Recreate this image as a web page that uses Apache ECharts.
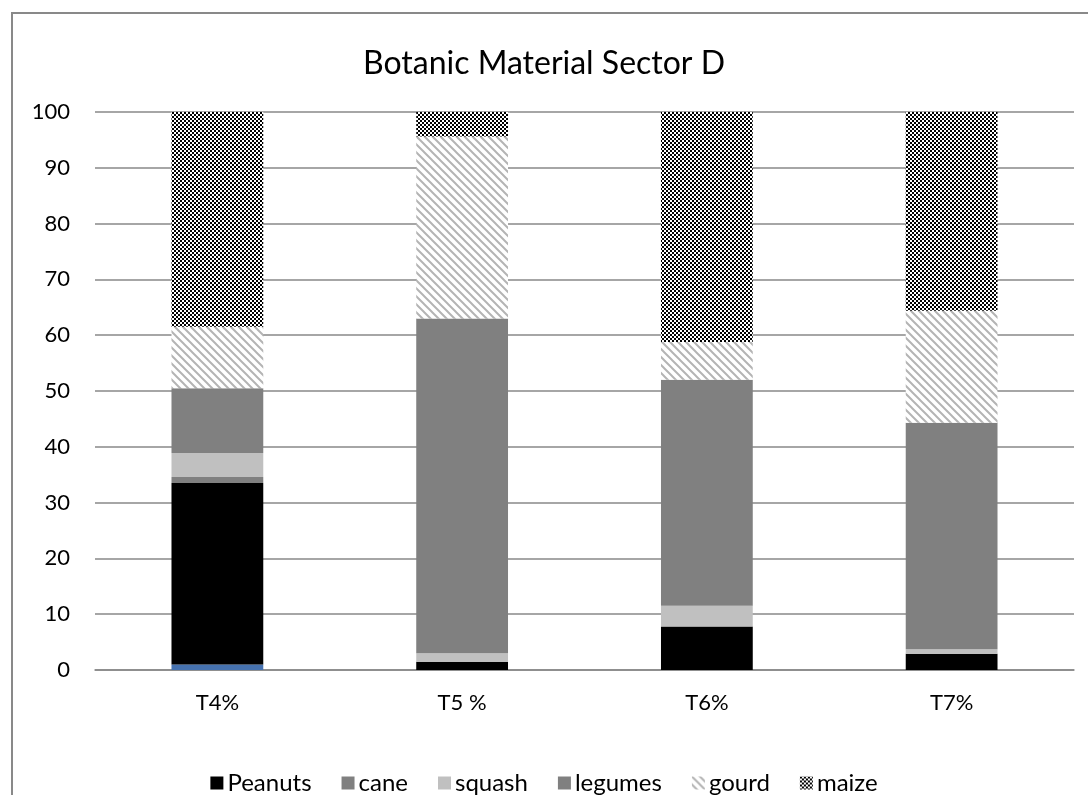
<!DOCTYPE html>
<html><head><meta charset="utf-8">
<script src="https://cdn.jsdelivr.net/npm/echarts@6/dist/echarts.min.js"></script>
<style>html,body{margin:0;padding:0;background:#fff}#c{width:1088px;height:795px}</style>
</head><body><div id="c"></div>
<script>
const categories = ['T4%', 'T5 %', 'T6%', 'T7%'];
const baseValues = [1.0, 0, 0, 0];
const peanuts = [32.5, 1.5, 7.8, 2.9];
const cane = [1.1, 0, 0, 0];
const squash = [4.3, 1.5, 3.7, 0.8];
const legumes = [11.6, 60.0, 40.5, 40.6];
const gourd = [11.0, 32.6, 6.8, 20.1];
const maize = [38.5, 4.4, 41.2, 35.6];
const yTicks = [0, 100, 10];

function gourdPattern() {
  const c = document.createElement('canvas'); c.width = 8; c.height = 8;
  const g = c.getContext('2d');
  g.fillStyle = '#fff'; g.fillRect(0, 0, 8, 8);
  g.strokeStyle = '#b4b4b4'; g.lineWidth = 2;
  g.beginPath();
  g.moveTo(-2, -2); g.lineTo(10, 10);
  g.moveTo(-2, 6); g.lineTo(2, 10);
  g.moveTo(6, -2); g.lineTo(10, 2);
  g.stroke();
  return c;
}
function maizePattern() {
  const c = document.createElement('canvas'); c.width = 4; c.height = 4;
  const g = c.getContext('2d');
  g.fillStyle = '#fff'; g.fillRect(0, 0, 4, 4);
  g.fillStyle = '#000'; g.fillRect(0, 0, 2, 2); g.fillRect(2, 2, 2, 2);
  return c;
}
const gourdFill = { image: gourdPattern(), repeat: 'repeat' };
const maizeFill = { image: maizePattern(), repeat: 'repeat' };

const font = 'Lato, "Open Sans", sans-serif';
function mk(name, data, color) {
  return { name: name, type: 'bar', stack: 's', data: data, barWidth: '37.5%',
    itemStyle: { color: color }, emphasis: { disabled: true } };
}
const chart = echarts.init(document.getElementById('c'));
chart.setOption({
  animation: false,
  title: { text: 'Botanic Material Sector D', left: 'center', top: 43,
    textStyle: { fontFamily: font, fontSize: 32, fontWeight: 'normal', color: '#000' } },
  graphic: [{ type: 'rect', shape: { x: 12, y: 13, width: 1100, height: 800 },
    style: { fill: 'none', stroke: '#898989', lineWidth: 2 }, silent: true, z: -1 }],
  grid: { left: 95, right: 14, top: 112, bottom: 125 },
  legend: { top: 765, left: 'center', itemWidth: 13, itemHeight: 13, itemGap: 30,
    icon: 'rect', padding: 5,
    data: ['Peanuts', 'cane', 'squash', 'legumes', 'gourd', 'maize'],
    textStyle: { fontFamily: font, fontSize: 24, lineHeight: 26, color: '#000', padding: [0, 0, 0, -1] } },
  xAxis: { type: 'category', data: categories,
    axisLine: { lineStyle: { color: '#888', width: 1.5 } }, axisTick: { show: false },
    axisLabel: { fontFamily: font, fontSize: 22, color: '#000', margin: 22 } },
  yAxis: { type: 'value', min: yTicks[0], max: yTicks[1], interval: yTicks[2],
    axisLine: { show: false }, axisTick: { show: false },
    splitLine: { lineStyle: { color: '#888', width: 1.5 } },
    axisLabel: { fontFamily: font, fontSize: 22, color: '#000', margin: 25 } },
  series: [
    mk('', baseValues, '#4672B0'),
    mk('Peanuts', peanuts, '#000000'),
    mk('cane', cane, '#808080'),
    mk('squash', squash, '#c0c0c0'),
    mk('legumes', legumes, '#808080'),
    mk('gourd', gourd, gourdFill),
    mk('maize', maize, maizeFill)
  ]
});
</script></body></html>
